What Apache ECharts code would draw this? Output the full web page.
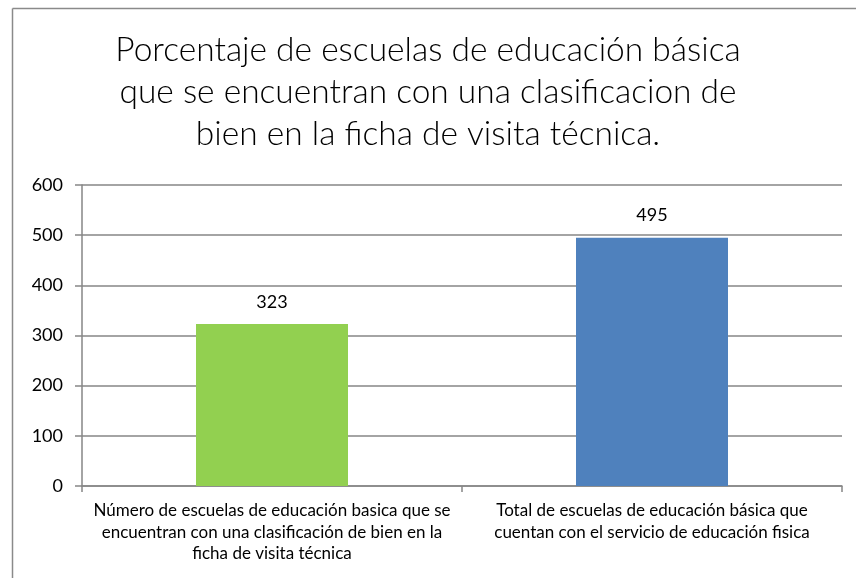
<!DOCTYPE html>
<html><head><meta charset="utf-8">
<script src="https://cdn.jsdelivr.net/npm/echarts@6/dist/echarts.min.js"></script>
<style>html,body{margin:0;padding:0;background:#fff}#c{width:856px;height:578px}</style>
</head><body><div id="c"></div>
<script>
const titleText = "Porcentaje de escuelas de educación básica\nque se encuentran con una clasificacion de\nbien en la ficha de visita técnica.";
const categories = [
  "Número de escuelas de educación basica que se\nencuentran con una clasificación de bien en la\nficha de visita técnica",
  "Total de escuelas de educación básica que\ncuentan con el servicio de educación fisica"
];
const values = [323, 495];
const barColors = ["#92D050", "#4F81BD"];
const yTicks = [0, 100, 200, 300, 400, 500, 600];

const chart = echarts.init(document.getElementById('c'));
chart.setOption({
  animation: false,
  backgroundColor: '#fff',
  title: {
    text: titleText, left: 'center', top: 24,
    textStyle: { fontFamily: 'Lato', fontWeight: 300, fontSize: 33.5, lineHeight: 42, color: '#000' }
  },
  graphic: [
    { type: 'line', shape: { x1: 12.5, y1: 8.5, x2: 856, y2: 8.5 }, style: { stroke: '#8a8a8a', lineWidth: 1.5 } },
    { type: 'line', shape: { x1: 12.5, y1: 8.5, x2: 12.5, y2: 578 }, style: { stroke: '#8a8a8a', lineWidth: 1.5 } }
  ],
  grid: { left: 82, right: 14, top: 185, bottom: 92 },
  xAxis: {
    type: 'category', data: categories,
    axisLine: { lineStyle: { color: '#868686', width: 1.5 } },
    axisTick: { show: true, length: 6, lineStyle: { color: '#868686', width: 1.5 } },
    axisLabel: { fontFamily: 'Lato', fontSize: 17, lineHeight: 21.5, color: '#000', margin: 14, interval: 0 }
  },
  yAxis: {
    type: 'value', min: yTicks[0], max: yTicks[yTicks.length - 1], interval: 100,
    axisLine: { show: true, lineStyle: { color: '#868686', width: 1.5 } },
    axisTick: { show: true, length: 7, lineStyle: { color: '#868686', width: 1.5 } },
    splitLine: { lineStyle: { color: '#868686', width: 1.5 } },
    axisLabel: { fontFamily: 'Lato', fontSize: 18, color: '#000', margin: 19 }
  },
  series: [{
    type: 'bar', barWidth: '40%',
    data: values.map((v, i) => ({ value: v, itemStyle: { color: barColors[i] } })),
    label: { show: true, position: 'top', distance: 13, fontFamily: 'Lato', fontSize: 18, color: '#000' }
  }]
});
</script></body></html>
